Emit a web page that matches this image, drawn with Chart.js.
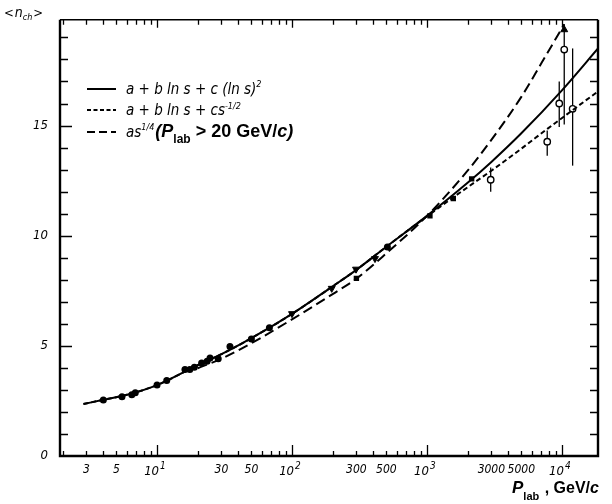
<!DOCTYPE html>
<html>
<head>
<meta charset="utf-8">
<script src="https://cdn.jsdelivr.net/npm/chart.js@4.4.1/dist/chart.umd.min.js"></script>
<style>
  html, body { margin: 0; padding: 0; background: #fff; }
  #wrap { width: 612px; height: 504px; }
</style>
</head>
<body>
<div id="wrap"><canvas id="c" width="612" height="504"></canvas></div>
<script>
// fit curves: P_lab (GeV/c) -> <n_ch>
const fitSolidP = [2.85, 4, 6, 10, 20, 30, 50, 100, 200, 300, 500, 1000, 2000, 3000, 5000, 10000, 18500];
const fitSolidN = [2.36, 2.55, 2.78, 3.22, 4.12, 4.62, 5.35, 6.45, 7.7, 8.45, 9.5, 10.9, 12.4, 13.35, 14.65, 16.6, 18.5];

const fitDashP = [2.85, 4, 6, 10, 20, 30, 50, 100, 200, 300, 500, 1000, 2000, 3000, 5000, 7800, 12000, 18500];
const fitDashN = [2.36, 2.55, 2.78, 3.22, 4.12, 4.62, 5.35, 6.45, 7.7, 8.45, 9.5, 10.88, 12.2, 12.95, 13.95, 14.85, 15.7, 16.55];

const fitPowP = [20, 30, 50, 100, 200, 300, 500, 1000, 2000, 3000, 5000, 7000, 10400];
const fitPowN = [3.98, 4.42, 5.12, 6.2, 7.35, 8.05, 9.2, 10.9, 12.95, 14.35, 16.3, 17.8, 19.6];

// measurements
const dotP = [4.0, 5.5, 6.5, 6.9, 10, 11.8, 16.1, 17.5, 18.9, 21.4, 23.5, 24.7, 28.4, 34.7, 50, 68, 509];
const dotN = [2.54, 2.69, 2.78, 2.87, 3.22, 3.43, 3.93, 3.93, 4.03, 4.22, 4.3, 4.45, 4.42, 4.97, 5.31, 5.82, 9.49];

const squareP = [300, 1052, 1567, 2143];
const squareN = [8.06, 10.9, 11.69, 12.58];

const triP = [100, 197, 298, 412];
const triN = [6.46, 7.61, 8.48, 8.96];

const openP = [2966, 7780, 9550, 10400, 12000];
const openN = [12.54, 14.27, 16.0, 18.45, 15.76];
const openLo = [12.0, 13.63, 14.93, 15.05, 13.18];
const openHi = [13.1, 14.78, 17.0, 19.6, 18.5];

// tick labels on the momentum axis; decades are drawn as 10 with an exponent
const xLabels = { 3: '3', 5: '5', 30: '30', 50: '50', 300: '300', 500: '500', 3000: '3000', 5000: '5000' };
const xDecades = [10, 100, 1000, 10000];
const yLabelStep = 5;

const X_MIN = 1.91, X_MAX = 18500, Y_MIN = 0, Y_MAX = 19.8;
const tickFont = "'DejaVu Sans Condensed', 'DejaVu Sans', sans-serif";

const pts = (xs, ys) => xs.map((x, i) => ({ x: x, y: ys[i] }));

function xTickValues() {
  const out = [];
  for (let d = 1; d <= 10000; d *= 10) {
    for (let m = 1; m <= 9; m++) {
      const v = m * d;
      if (v >= X_MIN && v <= X_MAX) out.push(v);
    }
  }
  return out;
}

// frame, inward ticks, error bars, legend and axis titles
const decor = {
  id: 'decor',
  beforeDatasetsDraw(chart) {
    const ctx = chart.ctx, xs = chart.scales.x, ys = chart.scales.y;
    // error bars for the open circles
    ctx.save();
    ctx.strokeStyle = '#000';
    ctx.lineWidth = 1.3;
    openP.forEach((p, i) => {
      const px = xs.getPixelForValue(p);
      ctx.beginPath();
      ctx.moveTo(px, ys.getPixelForValue(openLo[i]));
      ctx.lineTo(px, ys.getPixelForValue(openHi[i]));
      ctx.stroke();
    });
    ctx.restore();
  },
  afterDraw(chart) {
    const ctx = chart.ctx, a = chart.chartArea, xs = chart.scales.x, ys = chart.scales.y;
    ctx.save();
    ctx.strokeStyle = '#000';
    ctx.fillStyle = '#000';

    // frame
    ctx.lineWidth = 2.4;
    ctx.beginPath();
    ctx.moveTo(a.left, a.top); ctx.lineTo(a.left, a.bottom); ctx.lineTo(a.right, a.bottom); ctx.lineTo(a.right, a.top);
    ctx.stroke();
    ctx.lineWidth = 1.5;
    ctx.beginPath();
    ctx.moveTo(a.left, a.top); ctx.lineTo(a.right, a.top);
    ctx.stroke();

    // x ticks, bottom and top
    ctx.lineWidth = 1.3;
    xTickValues().forEach(v => {
      const px = Math.round(xs.getPixelForValue(v)) + 0.5;
      const major = xDecades.includes(v);
      ctx.beginPath();
      ctx.moveTo(px, a.bottom); ctx.lineTo(px, a.bottom - (major ? 11 : 5));
      ctx.moveTo(px, a.top); ctx.lineTo(px, a.top + (major ? 8 : 5));
      ctx.stroke();
    });

    // decade labels 10^n
    ctx.textBaseline = 'alphabetic';
    xDecades.forEach((v, i) => {
      const px = xs.getPixelForValue(v);
      ctx.font = "italic 13px 'DejaVu Sans Condensed'";
      const w = ctx.measureText('10').width;
      ctx.textAlign = 'left';
      ctx.fillText('10', px - w + 2, a.bottom + 19);
      ctx.font = "italic 10px 'DejaVu Sans Condensed'";
      ctx.fillText(String(i + 1), px + 3, a.bottom + 13);
    });

    // y ticks, left and right
    for (let v = 1; v < Y_MAX; v++) {
      const py = Math.round(ys.getPixelForValue(v)) + 0.5;
      const major = v % yLabelStep === 0;
      ctx.beginPath();
      ctx.moveTo(a.left, py); ctx.lineTo(a.left + (major ? 12 : 8), py);
      ctx.moveTo(a.right, py); ctx.lineTo(a.right - 8, py);
      ctx.stroke();
    }

    // y title  <n_ch>
    ctx.textAlign = 'left';
    let tx = 4;
    ctx.font = "13px 'DejaVu Sans Condensed'";
    ctx.fillText('<', tx, 17); tx += ctx.measureText('<').width + 1;
    ctx.font = "italic 14px 'DejaVu Sans Condensed'";
    ctx.fillText('n', tx, 17); tx += ctx.measureText('n').width;
    ctx.font = "italic 9px 'DejaVu Sans Condensed'";
    ctx.fillText('ch', tx, 20); tx += ctx.measureText('ch').width + 1;
    ctx.font = "13px 'DejaVu Sans Condensed'";
    ctx.fillText('>', tx, 17);

    // x title  P_lab , GeV/c
    tx = 512;
    ctx.font = "bold italic 17px 'Liberation Sans'";
    ctx.fillText('P', tx, 493); tx += ctx.measureText('P').width;
    ctx.font = "bold 11px 'Liberation Sans'";
    ctx.fillText('lab', tx, 500); tx += ctx.measureText('lab').width + 1;
    ctx.font = "bold 16px 'Liberation Sans'";
    ctx.fillText(' , GeV/', tx, 493); tx += ctx.measureText(' , GeV/').width;
    ctx.font = "bold italic 16px 'Liberation Sans'";
    ctx.fillText('c', tx, 493);

    // legend
    const rows = [
      { y: 89, dash: [], parts: [['a + b ln s + c (ln s)', 0, 'f'], ['2', -7, 's']] },
      { y: 110, dash: [4, 2.5], parts: [['a + b ln s + cs', 0, 'f'], ['-1/2', -6, 's']] },
      { y: 132, dash: [8, 4], parts: [['as', 0, 'f'], ['1/4', -7, 's'], ['(P', 0, 'b'], ['lab', 6, 'bs'], [' > 20 GeV/', 0, 'bn'], ['c)', 0, 'b']] }
    ];
    const fonts = {
      f: "italic 15px 'DejaVu Sans Condensed'",
      s: "italic 9px 'DejaVu Sans Condensed'",
      b: "bold italic 18px 'Liberation Sans'",
      bs: "bold 12px 'Liberation Sans'",
      bn: "bold 18px 'Liberation Sans'"
    };
    rows.forEach(r => {
      ctx.lineWidth = 2;
      ctx.setLineDash(r.dash);
      ctx.beginPath();
      ctx.moveTo(87, r.y); ctx.lineTo(116, r.y);
      ctx.stroke();
      ctx.setLineDash([]);
      let lx = 126;
      r.parts.forEach(([txt, dy, f]) => {
        ctx.font = fonts[f];
        ctx.fillText(txt, lx, r.y + 5 + dy);
        lx += ctx.measureText(txt).width + (f === 's' ? 1 : 0);
      });
    });
    ctx.restore();
  }
};

const lineSet = (xs, ys, dash) => ({
  data: pts(xs, ys),
  showLine: true,
  borderColor: '#000',
  borderWidth: 2,
  borderDash: dash,
  pointRadius: 0,
  fill: false,
  cubicInterpolationMode: 'monotone'
});

new Chart(document.getElementById('c'), {
  type: 'scatter',
  data: {
    datasets: [
      lineSet(fitSolidP, fitSolidN, []),
      lineSet(fitDashP, fitDashN, [5, 3]),
      lineSet(fitPowP, fitPowN, [10, 5]),
      { data: pts(dotP, dotN), pointStyle: 'circle', pointRadius: 3.5, backgroundColor: '#000', borderColor: '#000', borderWidth: 0 },
      { data: pts(squareP, squareN), pointStyle: 'rect', pointRadius: 3.8, backgroundColor: '#000', borderColor: '#000', borderWidth: 0 },
      { data: pts(triP, triN), pointStyle: 'triangle', pointRotation: 180, pointRadius: 4, backgroundColor: '#000', borderColor: '#000', borderWidth: 1 },
      { data: pts(openP, openN), pointStyle: 'circle', pointRadius: 3.2, backgroundColor: '#fff', borderColor: '#000', borderWidth: 1.4 },
      { data: [{ x: 10400, y: 19.35 }], pointStyle: 'triangle', pointRadius: 4, backgroundColor: '#000', borderColor: '#000', borderWidth: 1 }
    ]
  },
  options: {
    responsive: false,
    animation: false,
    layout: { padding: { top: 12, right: 14, left: 0, bottom: 0 } },
    plugins: { legend: { display: false }, tooltip: { enabled: false } },
    scales: {
      x: {
        type: 'logarithmic',
        min: X_MIN,
        max: X_MAX,
        grid: { display: false, drawTicks: false },
        border: { display: false },
        afterBuildTicks: s => { s.ticks = xTickValues().map(v => ({ value: v })); },
        afterFit: s => { s.height = 48; },
        ticks: {
          autoSkip: false,
          maxRotation: 0,
          padding: 7,
          color: '#000',
          font: { family: tickFont, style: 'italic', size: 12 },
          callback: v => xLabels[Math.round(v)] || ''
        }
      },
      y: {
        min: Y_MIN,
        max: Y_MAX,
        grid: { display: false, drawTicks: false },
        border: { display: false },
        afterFit: s => { s.width = 60; },
        ticks: {
          stepSize: 1,
          padding: 12,
          color: '#000',
          font: { family: tickFont, style: 'italic', size: 13 },
          callback: v => (v % yLabelStep === 0 ? String(v) : '')
        }
      }
    }
  },
  plugins: [decor]
});
</script>
</body>
</html>
